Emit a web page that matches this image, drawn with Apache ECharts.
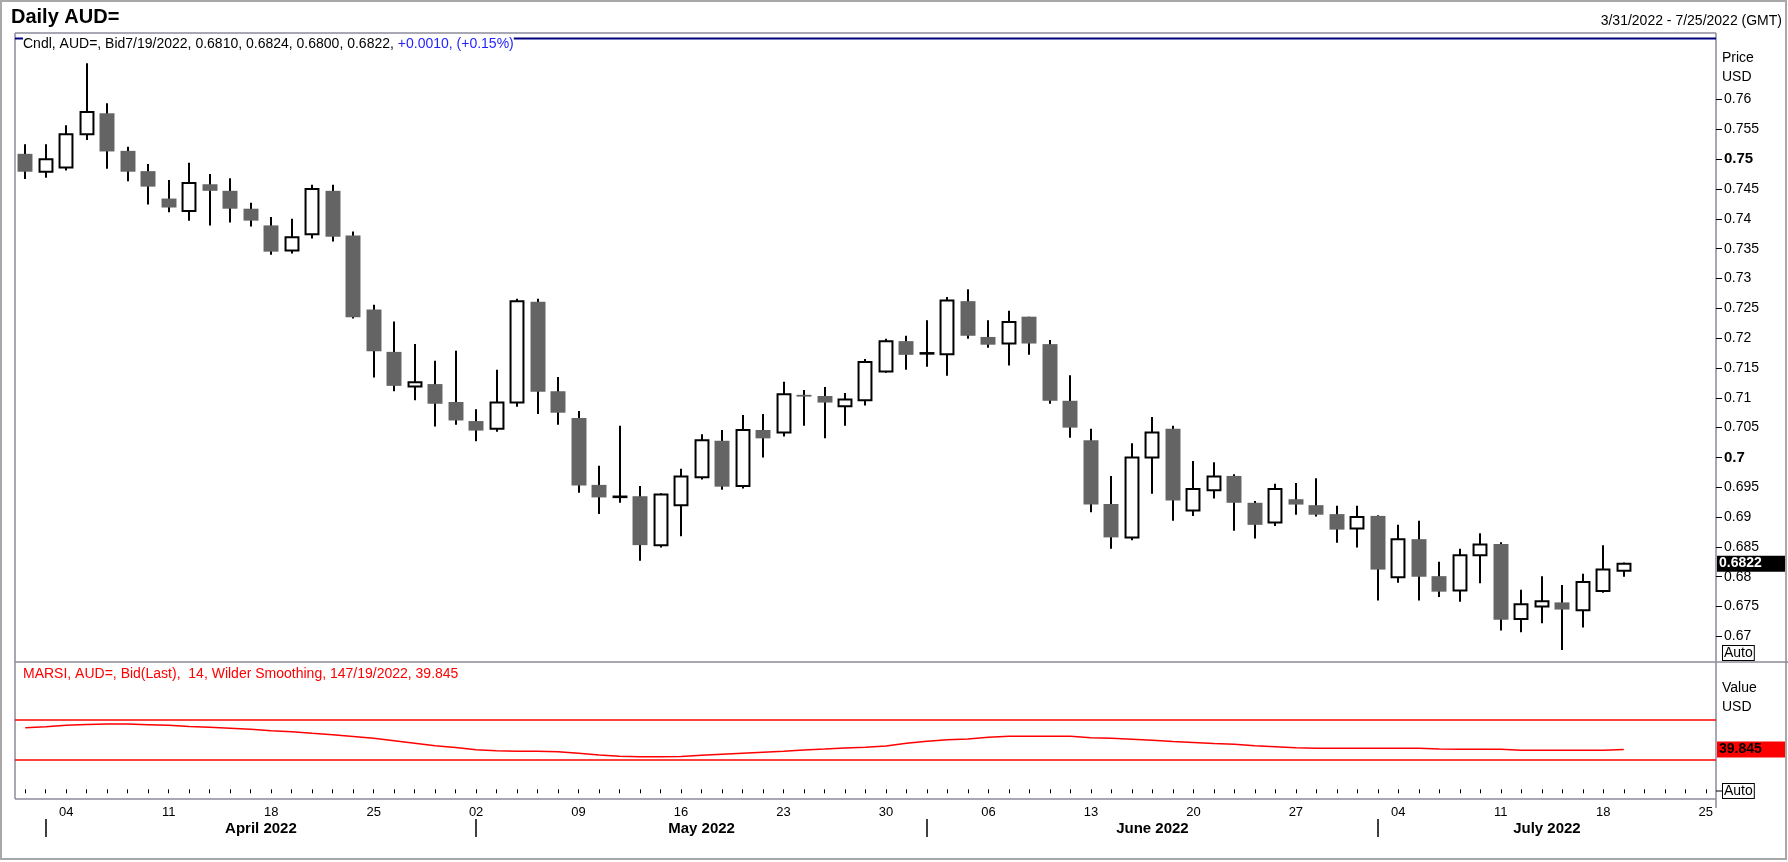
<!DOCTYPE html>
<html><head><meta charset="utf-8">
<script src="https://cdn.jsdelivr.net/npm/echarts@6/dist/echarts.min.js"></script>
<style>html,body{margin:0;padding:0;background:#fff}#c{width:1788px;height:862px}</style>
</head><body><div id="c"></div>
<script>
const dates = [
 '2022-03-31','2022-04-01','2022-04-04','2022-04-05','2022-04-06','2022-04-07','2022-04-08',
 '2022-04-11','2022-04-12','2022-04-13','2022-04-14','2022-04-15','2022-04-18','2022-04-19',
 '2022-04-20','2022-04-21','2022-04-22','2022-04-25','2022-04-26','2022-04-27','2022-04-28',
 '2022-04-29','2022-05-02','2022-05-03','2022-05-04','2022-05-05','2022-05-06','2022-05-09',
 '2022-05-10','2022-05-11','2022-05-12','2022-05-13','2022-05-16','2022-05-17','2022-05-18',
 '2022-05-19','2022-05-20','2022-05-23','2022-05-24','2022-05-25','2022-05-26','2022-05-27',
 '2022-05-30','2022-05-31','2022-06-01','2022-06-02','2022-06-03','2022-06-06','2022-06-07',
 '2022-06-08','2022-06-09','2022-06-10','2022-06-13','2022-06-14','2022-06-15','2022-06-16',
 '2022-06-17','2022-06-20','2022-06-21','2022-06-22','2022-06-23','2022-06-24','2022-06-27',
 '2022-06-28','2022-06-29','2022-06-30','2022-07-01','2022-07-04','2022-07-05','2022-07-06',
 '2022-07-07','2022-07-08','2022-07-11','2022-07-12','2022-07-13','2022-07-14','2022-07-15',
 '2022-07-18','2022-07-19','2022-07-20','2022-07-21','2022-07-22','2022-07-25'
];
const opens = [
 0.7509,0.7479,0.7486,0.7542,0.7577,0.7514,0.7480,0.7434,0.7413,0.7458,
 0.7447,0.7417,0.7389,0.7347,0.7374,0.7447,0.7372,0.7248,0.7177,0.7119,
 0.7123,0.7093,0.7061,0.7048,0.7092,0.7261,0.7111,0.7066,0.6954,0.69335,
 0.6935,0.6853,0.6920,0.6967,0.7028,0.6952,0.7046,0.7042,0.7105,0.7103,
 0.7086,0.7096,0.7144,0.7195,0.7174,0.7173,0.7262,0.7202,0.7191,0.7236,
 0.7190,0.7095,0.7029,0.6922,0.6866,0.7000,0.7048,0.6911,0.6945,0.6969,
 0.6924,0.6891,0.6930,0.6920,0.6905,0.6881,0.6902,0.6799,0.6863,0.6801,
 0.6777,0.6836,0.6855,0.6729,0.6750,0.6757,0.6744,0.6776,0.6810
];
const highs = [
 0.7525,0.7525,0.7557,0.7661,0.7594,0.7521,0.7492,0.7465,0.7494,0.7475,
 0.7468,0.7427,0.7403,0.7400,0.7457,0.7457,0.7379,0.7256,0.7228,0.7190,
 0.7162,0.7179,0.7081,0.7147,0.7266,0.7266,0.7135,0.7078,0.6986,0.7053,
 0.6952,0.6940,0.6981,0.7039,0.7046,0.7071,0.7073,0.7127,0.7113,0.7118,
 0.7108,0.7165,0.7199,0.7204,0.7230,0.7269,0.7282,0.7230,0.7246,0.7236,
 0.7197,0.7138,0.7048,0.6969,0.7024,0.7068,0.7053,0.6994,0.6992,0.6972,
 0.6927,0.6956,0.6957,0.6965,0.6919,0.6919,0.6903,0.6887,0.6894,0.6825,
 0.6847,0.6873,0.6858,0.6778,0.6801,0.6786,0.6805,0.6853,0.6824
];
const lows = [
 0.7467,0.7469,0.7481,0.7532,0.7484,0.7463,0.7424,0.7411,0.7397,0.7389,
 0.7394,0.7387,0.7340,0.7342,0.7367,0.7362,0.7233,0.7134,0.7111,0.7096,
 0.7052,0.7055,0.7027,0.7043,0.7085,0.7073,0.7055,0.6941,0.6905,0.6924,
 0.6827,0.6849,0.6868,0.6963,0.6946,0.6948,0.7000,0.7035,0.7053,0.7032,
 0.7053,0.7087,0.7142,0.7147,0.7152,0.7137,0.7199,0.7184,0.7154,0.7172,
 0.7090,0.7033,0.6908,0.6847,0.6861,0.6939,0.6894,0.6902,0.6931,0.6877,
 0.6864,0.6885,0.6904,0.6901,0.6857,0.6849,0.6760,0.6790,0.6760,0.6766,
 0.6758,0.6789,0.6710,0.6707,0.6722,0.6677,0.6715,0.6773,0.6800
];
const closes = [
 0.7479,0.7500,0.7542,0.7579,0.7513,0.7479,0.7454,0.7419,0.7460,0.7447,
 0.7417,0.7397,0.7345,0.7369,0.7450,0.7370,0.7235,0.7178,0.7120,0.7126,
 0.7090,0.7062,0.7045,0.7092,0.7262,0.7110,0.7075,0.6953,0.6933,0.69345,
 0.6853,0.6938,0.6968,0.7029,0.6951,0.7046,0.7032,0.7106,0.7102,0.7092,
 0.7097,0.7160,0.7195,0.7172,0.7175,0.7263,0.7204,0.7189,0.7227,0.7191,
 0.7095,0.7050,0.6921,0.6866,0.7000,0.7042,0.6928,0.6947,0.6968,0.6924,
 0.6887,0.6947,0.6921,0.6904,0.6879,0.6900,0.6812,0.6863,0.6800,0.6775,
 0.6836,0.6854,0.6728,0.6754,0.6759,0.6745,0.6791,0.6812,0.6822
];
const rsi = [
 61.5,62.6,64.0,64.8,65.3,65.2,64.6,64.0,62.8,62.0,
 61.0,60.0,58.6,57.6,56.0,54.6,52.8,51.0,48.5,46.0,
 43.5,41.8,39.6,38.5,38.0,38.0,37.6,36.0,34.3,33.0,
 32.6,32.6,32.8,34.0,35.0,36.0,37.0,38.0,39.3,40.2,
 41.2,42.0,43.3,46.0,48.0,49.5,50.3,52.0,53.0,53.0,
 53.0,53.0,51.5,51.0,50.0,49.0,47.8,46.8,45.8,45.0,
 43.6,42.6,41.5,41.0,41.0,41.0,41.0,41.0,41.0,40.2,
 40.0,40.0,40.0,39.0,39.0,39.0,39.0,39.0,39.845
];
const priceTicks = ['0.67','0.675','0.68','0.685','0.69','0.695','0.7','0.705','0.71','0.715',
 '0.72','0.725','0.73','0.735','0.74','0.745','0.75','0.755','0.76'];
const boldTicks = ['0.7','0.75'];
const rsiLevels = [70, 30];
const monthFullNames = ['January','February','March','April','May','June','July','August','September','October','November','December'];

const FONT = '"Liberation Sans", Arial, sans-serif';
const last = closes.length - 1;
const priceTickValues = priceTicks.map(Number);

const monthStarts = [];
for (let i = 1; i < dates.length; i++) {
  if (dates[i].slice(5, 7) !== dates[i - 1].slice(5, 7)) monthStarts.push(i);
}
const monthMids = monthStarts.map((s, k) => (s + (k + 1 < monthStarts.length ? monthStarts[k + 1] : dates.length - 0.5)) / 2);
const monthLabelMap = {};
monthStarts.forEach((s, k) => {
  const d = dates[s];
  monthLabelMap[monthMids[k].toFixed(3)] = monthFullNames[+d.slice(5, 7) - 1] + ' ' + d.slice(0, 4);
});

function usDate(d) { return (+d.slice(5, 7)) + '/' + (+d.slice(8, 10)) + '/' + d.slice(0, 4); }
const chg = closes[last] - closes[last - 1];
const chgPct = chg / closes[last - 1] * 100;
const sign = chg >= 0 ? '+' : '-';
const legendMain = 'Cndl, AUD=, Bid' + usDate(dates[last]) + ', ' + opens[last].toFixed(4) + ', ' +
  highs[last].toFixed(4) + ', ' + lows[last].toFixed(4) + ', ' + closes[last].toFixed(4) + ', ';
const legendChg = sign + Math.abs(chg).toFixed(4) + ', (' + sign + Math.abs(chgPct).toFixed(2) + '%)';
const rsiLegend = 'MARSI, AUD=, Bid(Last),  14, Wilder Smoothing, 14' + usDate(dates[last]) + ', ' + rsi[last].toFixed(3);

const candleData = opens.map((o, i) => [i, o, closes[i], lows[i], highs[i]]);

function renderCandle(params, api) {
  const i = api.value(0), o = api.value(1), c = api.value(2), l = api.value(3), h = api.value(4);
  const pO = api.coord([i, o]), pC = api.coord([i, c]);
  const pH = api.coord([i, h]), pL = api.coord([i, l]);
  const band = api.size([1, 0])[0];
  const bull = c >= o;
  const x = Math.round(pO[0]);
  let top = Math.min(pO[1], pC[1]);
  let hgt = Math.abs(pO[1] - pC[1]);
  if (!bull && hgt < 1.5) { top -= (1.5 - hgt) / 2; hgt = 1.5; }
  if (bull && hgt < 0.5) { hgt = 0.5; }
  const w = bull ? band * 0.63 : band * 0.73;
  return {
    type: 'group',
    children: [
      { type: 'line', shape: { x1: x, y1: pH[1], x2: x, y2: pL[1] }, style: { stroke: '#000', lineWidth: 2 } },
      { type: 'rect', shape: { x: x - w / 2, y: top, width: w, height: hgt },
        style: bull ? { fill: '#fff', stroke: '#000', lineWidth: 2 } : { fill: '#646464' } }
    ]
  };
}

const FRAME = '#8b8b9b';
const HIDDEN = { color: 'rgba(0,0,0,0)', width: 0 };
const chart = echarts.init(document.getElementById('c'), null, { renderer: 'canvas' });
chart.setOption({
  animation: false,
  backgroundColor: '#fff',
  textStyle: { fontFamily: FONT },
  grid: [
    { left: 15, right: 72, top: 39, height: 623, show: false },
    { left: 15, right: 72, top: 662, height: 137, show: false }
  ],
  xAxis: [
    { gridIndex: 0, type: 'category', data: dates, boundaryGap: true, show: false },
    { gridIndex: 1, type: 'category', data: dates, boundaryGap: true,
      axisLine: { show: false },
      axisTick: { show: true, alignWithLabel: true, interval: 0, length: 4, lineStyle: { color: '#000', width: 1 } },
      axisLabel: {
        interval: (idx, val) => new Date(val + 'T00:00:00Z').getUTCDay() === 1,
        formatter: v => v.slice(8, 10), fontSize: 13, color: '#000', margin: 7, fontFamily: FONT
      },
      splitLine: { show: false } },
    { gridIndex: 1, type: 'value', min: -0.5, max: dates.length - 0.5, position: 'bottom', offset: 20,
      axisLine: { show: false }, splitLine: { show: false },
      axisTick: { show: true, customValues: monthStarts, length: 18, lineStyle: { color: '#000', width: 1.5 } },
      axisLabel: { customValues: monthMids, formatter: v => monthLabelMap[(+v).toFixed(3)] || '',
        fontSize: 15, fontWeight: 'bold', color: '#000', margin: 2, fontFamily: FONT } }
  ],
  yAxis: [
    { gridIndex: 0, type: 'value', position: 'right', min: 0.665708, max: 0.770151,
      axisLine: { show: false }, splitLine: { show: false },
      axisTick: { show: true, customValues: priceTickValues, length: 6, lineStyle: { color: '#000' } },
      axisLabel: { customValues: priceTickValues, margin: 8, fontSize: 14, color: '#000', fontFamily: FONT,
        formatter: v => {
          const s = priceTicks.find(t => Math.abs(+t - v) < 1e-9) || '';
          return boldTicks.includes(s) ? '{b|' + s + '}' : s;
        },
        rich: { b: { fontWeight: 'bold', fontSize: 15, color: '#000', fontFamily: FONT } } } },
    { gridIndex: 1, type: 'value', position: 'right', min: -9.7, max: 127.3,
      axisLine: { show: false }, axisTick: { show: false }, axisLabel: { show: false }, splitLine: { show: false } }
  ],
  series: [
    { type: 'custom', name: 'AUD=', xAxisIndex: 0, yAxisIndex: 0, renderItem: renderCandle,
      encode: { x: 0, y: [1, 2, 3, 4] }, data: candleData, clip: false, z: 3,
      markLine: { silent: true, symbol: 'none', animation: false, precision: 4,
        lineStyle: HIDDEN,
        label: { show: true, position: 'end', distance: 1, formatter: () => closes[last].toFixed(4),
          backgroundColor: '#000', color: '#fff', fontWeight: 'bold', fontSize: 14, fontFamily: FONT,
          padding: [1, 3, 1, 2], width: 63, align: 'left' },
        data: [{ yAxis: closes[last] }] } },
    { type: 'line', name: 'MARSI', xAxisIndex: 1, yAxisIndex: 1, data: rsi, showSymbol: false, symbol: 'none',
      clip: false, lineStyle: { color: '#ff0000', width: 1.5 }, itemStyle: { color: '#ff0000' },
      markLine: { silent: true, symbol: 'none', animation: false,
        data: [
          ...rsiLevels.map(v => ({ yAxis: v, lineStyle: { color: '#ff0000', width: 1.5, type: 'solid' }, label: { show: false } })),
          { yAxis: rsi[last], lineStyle: HIDDEN,
            label: { show: true, position: 'end', distance: 1, formatter: () => rsi[last].toFixed(3),
              backgroundColor: '#ff0000', color: '#000', fontWeight: 'bold', fontSize: 14, fontFamily: FONT,
              padding: [1, 3, 1, 2], width: 63, align: 'left' } }
        ] } }
  ],
  graphic: { elements: [
    { type: 'rect', shape: { x: 1, y: 1, width: 1785, height: 858 }, style: { fill: 'none', stroke: '#a8a8a8', lineWidth: 2 }, silent: true },
    { type: 'line', shape: { x1: 15, y1: 33, x2: 1716, y2: 33 }, style: { stroke: FRAME, lineWidth: 1.5 }, silent: true },
    { type: 'line', shape: { x1: 15, y1: 33, x2: 15, y2: 799 }, style: { stroke: FRAME, lineWidth: 1.5 }, silent: true },
    { type: 'line', shape: { x1: 15, y1: 662, x2: 1788, y2: 662 }, style: { stroke: FRAME, lineWidth: 1.5 }, silent: true },
    { type: 'line', shape: { x1: 15, y1: 799, x2: 1716, y2: 799 }, style: { stroke: FRAME, lineWidth: 1.5 }, silent: true },
    { type: 'line', shape: { x1: 1716, y1: 33, x2: 1716, y2: 808 }, style: { stroke: FRAME, lineWidth: 1.5 }, silent: true },
    { type: 'line', shape: { x1: 15, y1: 38.5, x2: 1716, y2: 38.5 }, style: { stroke: '#000080', lineWidth: 2 }, silent: true },
    { type: 'text', x: 23, y: 44, silent: true, style: {
        text: '{k|' + legendMain + '}{c|' + legendChg + '}', verticalAlign: 'middle', backgroundColor: '#fff',
        rich: { k: { fill: '#000', fontSize: 14, fontFamily: FONT }, c: { fill: '#1f1fff', fontSize: 14, fontFamily: FONT } } } },
    { type: 'text', x: 23, y: 674, silent: true, style: { text: rsiLegend, fill: '#ff0000', fontSize: 14, fontFamily: FONT, verticalAlign: 'middle' } },
    { type: 'text', x: 11, y: 17, silent: true, style: { text: 'Daily AUD=', fill: '#000', fontSize: 20, fontWeight: 'bold', fontFamily: FONT, verticalAlign: 'middle' } },
    { type: 'text', x: 1782, y: 21, silent: true, style: { text: usDate(dates[0]) + ' - ' + usDate(dates[dates.length - 1]) + ' (GMT)', fill: '#000', fontSize: 14, fontFamily: FONT, align: 'right', verticalAlign: 'middle' } },
    { type: 'text', x: 1722, y: 58, silent: true, style: { text: 'Price', fill: '#000', fontSize: 14, fontFamily: FONT, verticalAlign: 'middle' } },
    { type: 'text', x: 1722, y: 77, silent: true, style: { text: 'USD', fill: '#000', fontSize: 14, fontFamily: FONT, verticalAlign: 'middle' } },
    { type: 'text', x: 1722, y: 688, silent: true, style: { text: 'Value', fill: '#000', fontSize: 14, fontFamily: FONT, verticalAlign: 'middle' } },
    { type: 'text', x: 1722, y: 707, silent: true, style: { text: 'USD', fill: '#000', fontSize: 14, fontFamily: FONT, verticalAlign: 'middle' } },
    { type: 'text', x: 1723, y: 646, silent: true, style: { text: 'Auto', fill: '#000', fontSize: 14, fontFamily: FONT, backgroundColor: '#fff', borderColor: '#000', borderWidth: 1, padding: [0, 1, 0, 1] } },
    { type: 'text', x: 1723, y: 784, silent: true, style: { text: 'Auto', fill: '#000', fontSize: 14, fontFamily: FONT, backgroundColor: '#fff', borderColor: '#000', borderWidth: 1, padding: [0, 1, 0, 1] } },
    { type: 'line', shape: { x1: 1716, y1: 791, x2: 1722, y2: 791 }, style: { stroke: '#000', lineWidth: 1 }, silent: true }
  ] }
});
</script>
</body></html>
